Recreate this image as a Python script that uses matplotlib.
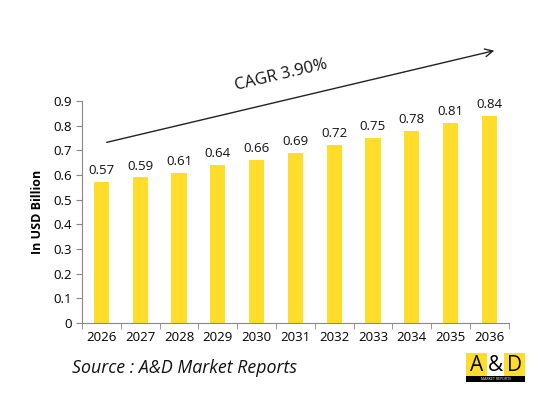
import matplotlib
matplotlib.use("Agg")
import matplotlib.pyplot as plt
from matplotlib.patches import Rectangle

years = ["2026", "2027", "2028", "2029", "2030", "2031", "2032", "2033", "2034", "2035", "2036"]
values = [0.57, 0.59, 0.61, 0.64, 0.66, 0.69, 0.72, 0.75, 0.78, 0.81, 0.84]
y_ticks = [0, 0.1, 0.2, 0.3, 0.4, 0.5, 0.6, 0.7, 0.8, 0.9]
cagr_label = "CAGR 3.90%"
y_label = "In USD Billion"
source = "Source : A&D Market Reports"

plt.rcParams['font.family'] = ['Open Sans', 'DejaVu Sans']

fig = plt.figure(figsize=(5.43, 3.97), dpi=100)
ax = fig.add_axes([0.151, 0.1864, 0.786, 0.5592])

x = list(range(len(years)))
ax.bar(x, values, width=0.39, color="#FFDD2A", zorder=2)
for xi, v in zip(x, values):
    ax.text(xi, v + 0.02, f"{v:.2f}", ha="center", va="bottom", fontsize=9.5, color="#111111")

ax.set_xlim(-0.5, len(years) - 0.5)
ax.set_ylim(0, 0.9)
ax.set_yticks(y_ticks)
ax.set_yticklabels(["0" if t == 0 else f"{t:.1f}" for t in y_ticks], fontsize=9.5)
ax.set_xticks(x)
ax.set_xticklabels(years, fontsize=9.5)
ax.tick_params(axis="x", length=0, pad=6)
ax.set_xticks([i - 0.5 for i in range(len(years) + 1)], minor=True)
ax.tick_params(axis="x", which="minor", length=4, color="#888888", direction="out")
ax.tick_params(axis="y", length=4, color="#888888", direction="out", pad=3)
for s in ["top", "right"]:
    ax.spines[s].set_visible(False)
for s in ["left", "bottom"]:
    ax.spines[s].set_color("#888888")
ax.set_ylabel(y_label, fontsize=9, fontweight="bold", labelpad=7)

# CAGR arrow (figure coordinates)
fig.add_artist(matplotlib.patches.FancyArrowPatch(
    (104 / 543, 1 - 143 / 397), (497 / 543, 1 - 50 / 397),
    transform=fig.transFigure, arrowstyle="->", mutation_scale=14,
    color="#222222", lw=1.0))
fig.text(281 / 543, 1 - 75 / 397, cagr_label, rotation=13.3, ha="center", va="center",
         fontsize=12, color="#111111")

fig.text(72 / 543, 1 - 368 / 397, source, fontsize=12.8, style="italic",
         ha="left", va="center", color="#111111")

# Logo
lx, ly, lw, lh = 466 / 543, 1 - 382 / 397, 59 / 543, 29 / 397
fig.add_artist(Rectangle((lx, ly + 0.012), lw, lh - 0.012, transform=fig.transFigure,
                         facecolor="#FFDD2A", edgecolor="none"))
fig.add_artist(Rectangle((lx + lw * 0.36, ly + 0.012), lw * 0.28, lh - 0.012,
                         transform=fig.transFigure, facecolor="white", edgecolor="none"))
fig.add_artist(Rectangle((lx, ly), lw, 0.014, transform=fig.transFigure,
                         facecolor="black", edgecolor="none"))
cy = ly + 0.012 + (lh - 0.012) / 2
for frac, ch in [(0.18, "A"), (0.5, "&"), (0.82, "D")]:
    fig.text(lx + lw * frac, cy, ch, ha="center", va="center",
             fontsize=15, color="black")
fig.text(lx + lw / 2, ly + 0.007, "MARKET REPORTS", ha="center", va="center",
         fontsize=2.5, color="white")

fig.savefig("out.png", dpi=100)
